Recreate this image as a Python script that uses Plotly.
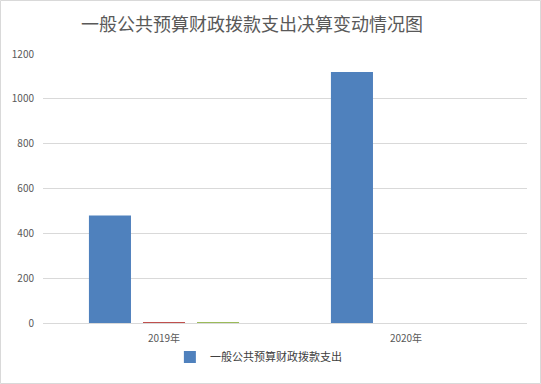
import plotly.graph_objects as go

categories = ["2019年", "2020年"]
series_names = ["一般公共预算财政拨款支出", "系列2", "系列3"]
blue_vals = [480, 1120]
red_vals = [4, 0]
green_vals = [4, 0]
colors = ["#4F81BD", "#C0504D", "#9BBB59"]
y_ticks = [0, 200, 400, 600, 800, 1000, 1200]

W, H = 541, 384
L, R, T, B = 43, 14, 54, 61
pw, ph = W - L - R, H - T - B

fig = go.Figure()
for name, vals, c, show in zip(series_names, [blue_vals, red_vals, green_vals], colors, [True, False, False]):
    fig.add_trace(go.Bar(x=categories, y=vals, name=name, marker_color=c, showlegend=show,
                         marker_line_width=0))

fig.update_layout(
    width=W, height=H,
    margin=dict(l=L, r=R, t=T, b=B),
    paper_bgcolor="white", plot_bgcolor="white",
    barmode="group", bargap=0.33, bargroupgap=0.222,
    font=dict(family="Noto Sans CJK SC", color="#595959", size=10),
    title=dict(text="一般公共预算财政拨款支出决算变动情况图", x=0.466, xanchor="center",
               y=1 - 25 / H, yanchor="middle",
               font=dict(size=18, color="#595959", family="Noto Sans CJK SC")),
    showlegend=True,
    legend=dict(orientation="h", x=0.445, xanchor="center", y=(H - B - 357) / ph, yanchor="middle",
                font=dict(size=11, color="#404040"), bgcolor="rgba(0,0,0,0)", itemwidth=30),
    xaxis=dict(showgrid=False, showline=True, linecolor="#D9D9D9", linewidth=1, ticks="outside",
               ticklen=6, tickcolor="rgba(0,0,0,0)",
               tickfont=dict(size=10, color="#595959")),
    yaxis=dict(range=[0, 1200], tickvals=y_ticks, showgrid=True, gridcolor="#D9D9D9", gridwidth=1,
               zeroline=False, showline=False, ticks="outside", ticklen=6, tickcolor="rgba(0,0,0,0)",
               tickfont=dict(size=10, color="#595959")),
)

fig.add_shape(type="rect", xref="paper", yref="paper",
              x0=(0.5 - L) / pw, x1=(W - 0.5 - L) / pw,
              y0=(H - B - (H - 0.5)) / ph, y1=(H - B - 0.5) / ph,
              line=dict(color="#D9D9D9", width=1), fillcolor="rgba(0,0,0,0)", layer="below")

fig.write_html("out.html")
